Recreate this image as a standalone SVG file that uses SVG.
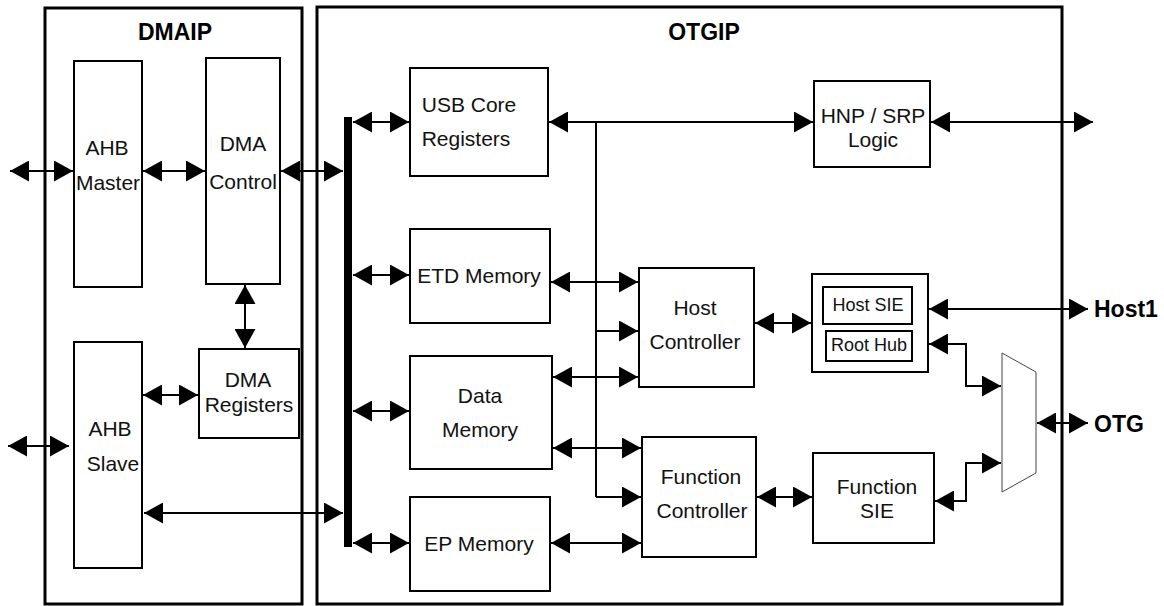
<svg xmlns="http://www.w3.org/2000/svg" width="1164" height="606" viewBox="0 0 1164 606">
<style>
.outer{fill:none;stroke:#000;stroke-width:3}
.box{fill:#fff;stroke:#000;stroke-width:2}
.t{font-family:"Liberation Sans",Arial,sans-serif;font-size:21px;fill:#111;text-anchor:middle;dominant-baseline:central}
.s{font-size:18px}
.b{font-family:"Liberation Sans",Arial,sans-serif;font-weight:bold;font-size:23px;fill:#000;dominant-baseline:central}
.c{fill:none;stroke:#000;stroke-width:2}
.a2{marker-start:url(#ah);marker-end:url(#ah)}
.a1{marker-end:url(#ah)}
</style>
<defs>
<marker id="ah" markerUnits="userSpaceOnUse" markerWidth="19" markerHeight="21" refX="19" refY="10.5" orient="auto-start-reverse" viewBox="0 0 19 21">
<path d="M0,0 L19,10.5 L0,21 Z" fill="#000"/>
</marker>
</defs>
<rect width="1164" height="606" fill="#fff"/>
<g id="dmaip"><rect class="outer" x="45" y="8" width="257" height="596"/><text class="b" x="175" y="32" text-anchor="middle">DMAIP</text></g>
<g id="otgip"><rect class="outer" x="317" y="7" width="745" height="597"/><text class="b" x="704" y="32" text-anchor="middle">OTGIP</text></g>
<g id="ahb-master"><rect class="box" x="74" y="61" width="68" height="226"/><text class="t" x="107" y="147">AHB</text><text class="t" x="108" y="182">Master</text></g>
<g id="dma-control"><rect class="box" x="206" y="58" width="74" height="226"/><text class="t" x="243" y="143">DMA</text><text class="t" x="243" y="181">Control</text></g>
<g id="dma-registers"><rect class="box" x="199" y="349" width="100" height="89"/><text class="t" x="248" y="379">DMA</text><text class="t" x="249" y="404">Registers</text></g>
<g id="ahb-slave"><rect class="box" x="74" y="342" width="68" height="226"/><text class="t" x="110" y="428">AHB</text><text class="t" x="113" y="463">Slave</text></g>
<g id="bus"><rect x="344" y="117" width="8" height="430" fill="#000"/></g>
<g id="usb-core"><rect class="box" x="410" y="68" width="138" height="108"/><text class="t" x="469" y="104">USB Core</text><text class="t" x="466" y="138">Registers</text></g>
<g id="etd-memory"><rect class="box" x="410" y="229" width="140" height="94"/><text class="t" x="479" y="275">ETD Memory</text></g>
<g id="data-memory"><rect class="box" x="410" y="356" width="142" height="113"/><text class="t" x="480" y="395">Data</text><text class="t" x="480" y="429">Memory</text></g>
<g id="ep-memory"><rect class="box" x="410" y="497" width="140" height="94"/><text class="t" x="479" y="543">EP Memory</text></g>
<g id="host-controller"><rect class="box" x="639" y="268" width="115" height="119"/><text class="t" x="695" y="307">Host</text><text class="t" x="695" y="341">Controller</text></g>
<g id="function-controller"><rect class="box" x="642" y="437" width="114" height="120"/><text class="t" x="701" y="476">Function</text><text class="t" x="702" y="510">Controller</text></g>
<g id="hnp-srp"><rect class="box" x="814" y="81" width="116" height="86"/><text class="t" x="873" y="115">HNP / SRP</text><text class="t" x="873" y="139">Logic</text></g>
<g id="host-sie-group"><rect class="box" x="812" y="274" width="116" height="98"/>
<rect class="box" x="823" y="287" width="89" height="37"/><text class="t s" x="868" y="305">Host SIE</text>
<rect class="box" x="826" y="331" width="86" height="30"/><text class="t s" x="869" y="345">Root Hub</text></g>
<g id="function-sie"><rect class="box" x="813" y="453" width="121" height="90"/><text class="t" x="877" y="486">Function</text><text class="t" x="877" y="510">SIE</text></g>
<g id="mux"><polygon points="1002,353 1036,372 1036,473 1002,492" fill="#fff" stroke="#444" stroke-width="1"/></g>
<g id="labels"><text class="b" x="1094" y="309">Host1</text><text class="b" x="1094" y="424">OTG</text></g>
<g id="connectors">
<line class="c a2" x1="10" y1="171" x2="73" y2="171"/>
<line class="c a2" x1="143" y1="171" x2="205" y2="171"/>
<line class="c a2" x1="281" y1="171" x2="343" y2="171"/>
<line class="c a2" x1="245" y1="285" x2="245" y2="348"/>
<line class="c a2" x1="143" y1="395" x2="198" y2="395"/>
<line class="c a2" x1="8" y1="446" x2="69" y2="446"/>
<line class="c a2" x1="144" y1="513" x2="343" y2="513"/>
<line class="c a2" x1="353" y1="122" x2="409" y2="122"/>
<line class="c a2" x1="353" y1="275" x2="409" y2="275"/>
<line class="c a2" x1="353" y1="411" x2="409" y2="411"/>
<line class="c a2" x1="353" y1="543" x2="409" y2="543"/>
<line class="c a2" x1="549" y1="122" x2="813" y2="122"/>
<line class="c" x1="596" y1="122" x2="596" y2="497"/>
<line class="c a1" x1="596" y1="331" x2="638" y2="331"/>
<line class="c a1" x1="596" y1="497" x2="641" y2="497"/>
<line class="c a2" x1="551" y1="282" x2="638" y2="282"/>
<line class="c a2" x1="553" y1="377" x2="638" y2="377"/>
<line class="c a2" x1="553" y1="448" x2="641" y2="448"/>
<line class="c a2" x1="551" y1="543" x2="641" y2="543"/>
<line class="c a2" x1="931" y1="122" x2="1093" y2="122"/>
<line class="c a2" x1="755" y1="323" x2="811" y2="323"/>
<line class="c a2" x1="929" y1="309" x2="1088" y2="309"/>
<path class="c a2" d="M929,344 H966 V386 H1001"/>
<line class="c a2" x1="757" y1="497" x2="812" y2="497"/>
<path class="c a2" d="M935,501 H966 V463 H1001"/>
<line class="c a2" x1="1037" y1="423" x2="1088" y2="423"/>
</g>
</svg>
